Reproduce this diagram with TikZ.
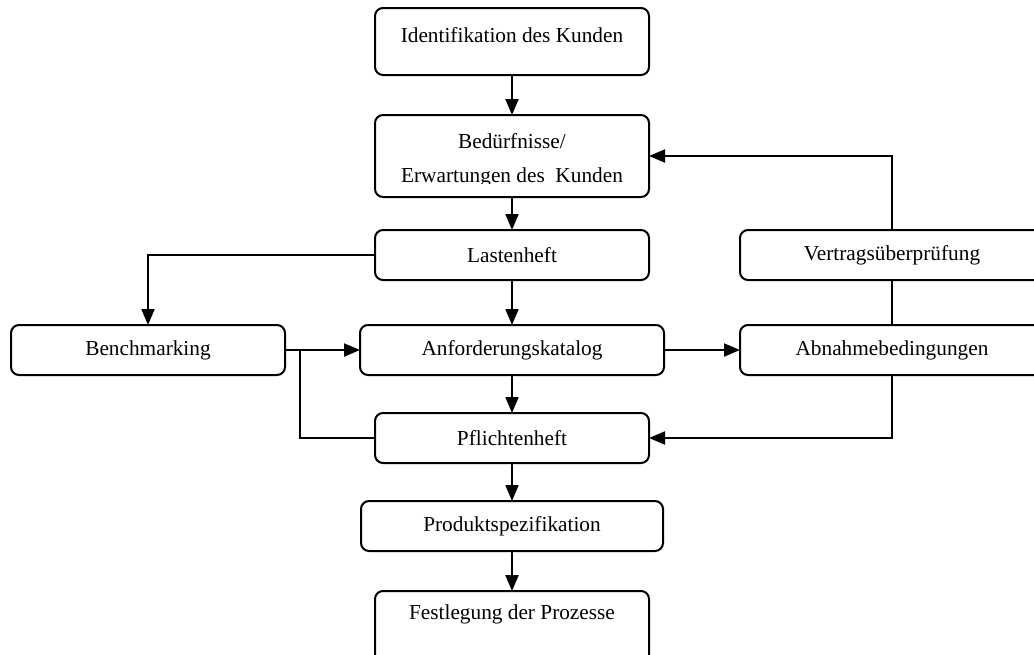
\documentclass[tikz,border=0pt]{standalone}
\usepackage{fontspec}
\setmainfont{Liberation Serif}
\usetikzlibrary{arrows.meta}
\begin{document}
\begin{tikzpicture}[x=1pt,y=-1pt,
  box/.style={draw, line width=2pt, rounded corners=8pt, inner sep=0pt, outer sep=0pt},
  lbl/.style={font=\fontsize{21.3}{25}\selectfont, inner sep=0pt},
  conn/.style={line width=2pt},
  arr/.style={conn, -{Triangle[length=16pt,width=13pt]}}]
\useasboundingbox (0,0) rectangle (1034,654);
\clip (0,0) rectangle (1034,654);

% boxes
\node[box, minimum width=274pt, minimum height=67pt] (ident) at (512,41.5) {};
\node[lbl] at (512,35) {Identifikation des Kunden};

\node[box, minimum width=274pt, minimum height=82pt] (bed) at (512,156) {};
\node[lbl, anchor=base] at (512,148) {Bedürfnisse/};
\begin{scope}
  \clip (375,115) rectangle (649,183.5);
  \node[lbl, anchor=base] at (512,182) {Erwartungen des\ \ Kunden};
\end{scope}

\node[box, lbl, minimum width=274pt, minimum height=50pt] (last) at (512,255) {Lastenheft};
\node[box, lbl, minimum width=304pt, minimum height=50pt] (vert) at (892,255) {Vertragsüberprüfung};
\node[box, lbl, minimum width=274pt, minimum height=50pt] (bench) at (148,350) {Benchmarking};
\node[box, lbl, minimum width=304pt, minimum height=50pt] (anf) at (512,350) {Anforderungskatalog};
\node[box, lbl, minimum width=304pt, minimum height=50pt] (abn) at (892,350) {Abnahmebedingungen};
\node[box, lbl, minimum width=274pt, minimum height=50pt] (pfl) at (512,438) {Pflichtenheft};
\node[box, lbl, minimum width=302pt, minimum height=50pt] (prod) at (512,526) {Produktspezifikation};

\node[box, minimum width=274pt, minimum height=76pt] (fest) at (512,629) {};
\node[lbl] at (512,614) {Festlegung der Prozesse};

% connectors
\draw[arr] (ident.south) -- (bed.north);
\draw[arr] (bed.south) -- (last.north);
\draw[arr] (last.west) -| (bench.north);
\draw[arr] (last.south) -- (anf.north);
\draw[arr] (bench.east) -- (anf.west);
\coordinate (split) at (300,350);
\draw[conn] (split) |- (pfl.west);
\draw[arr] (anf.south) -- (pfl.north);
\draw[arr] (anf.east) -- (abn.west);
\draw[arr] (vert.north) |- (bed.east);
\draw[conn] (vert.south) -- (abn.north);
\draw[arr] (abn.south) |- (pfl.east);
\draw[arr] (pfl.south) -- (prod.north);
\draw[arr] (prod.south) -- (fest.north);
\end{tikzpicture}
\end{document}
